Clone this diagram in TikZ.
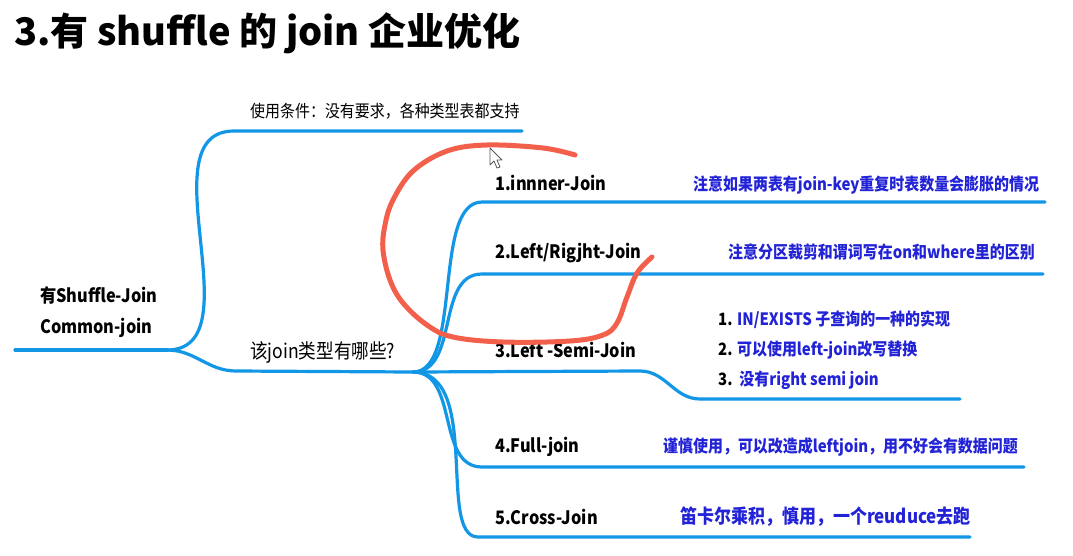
\documentclass[tikz,border=0pt]{standalone}
\usepackage{fontspec}
\setmainfont{Noto Sans CJK SC}[FakeStretch=0.88]
\newfontfamily\titlefont{Noto Sans CJK SC}
\usetikzlibrary{positioning}
\definecolor{branch}{RGB}{18,150,230}
\definecolor{noteblue}{RGB}{34,34,214}
\definecolor{pen}{RGB}{242,96,76}

\begin{document}
\begin{tikzpicture}[x=1pt, y=-1pt,
    lab/.style={anchor=west, inner sep=0pt, font=\fontsize{18.5}{22}\selectfont\bfseries},
    note/.style={anchor=west, inner sep=0pt, text=noteblue,
                 font=\fontsize{17}{20}\selectfont\bfseries},
    br/.style={draw=branch, line width=3.2pt, line cap=round}
]
\fill[white] (0,0) rectangle (1073,555);
\useasboundingbox (0,0) rectangle (1073,555);

% title
\node[anchor=base west, inner sep=0pt, font=\titlefont\fontsize{38}{42}\selectfont\bfseries]
    (title) at (14,45) {3.有 shuffle 的 join 企业优化};

% root and first level
\node[lab, align=left, font=\fontsize{18.5}{31}\selectfont\bfseries] (root) at (40,312)
    {有Shuffle-Join\\Common-join};
\node[anchor=west, inner sep=0pt, font=\fontsize{17}{20}\selectfont] (cond) at (250,111)
    {使用条件：没有要求，各种类型表都支持};
\node[anchor=west, inner sep=0pt, font=\fontsize{20}{24}\selectfont] (kind) at (250,352)
    {该join类型有哪些?};

% join kinds
\node[lab] (j1) at (495,183) {1.innner-Join};
\node[lab] (j2) at (495,253) {2.Left/Rigjht-Join};
\node[lab] (j3) at (495,350) {3.Left -Semi-Join};
\node[lab] (j4) at (495,447) {4.Full-join};
\node[lab] (j5) at (495,517) {5.Cross-Join};

% notes
\node[note] (n1) at (693,185) {注意如果两表有join-key重复时表数量会膨胀的情况};
\node[note] (n2) at (728,252) {注意分区裁剪和谓词写在on和where里的区别};
\node[note, align=left, font=\fontsize{17}{30}\selectfont\bfseries] (n3) at (718,350)
    {\textcolor{black}{1.} IN/EXISTS 子查询的一种的实现\\
     \textcolor{black}{2.} 可以使用left-join改写替换\\
     \textcolor{black}{3.}\ \ 没有right semi join};
\node[note] (n4) at (663,447) {谨慎使用，可以改造成leftjoin，用不好会有数据问题};
\node[note, font=\fontsize{19.3}{22}\selectfont\bfseries] (n5) at (680,517)
    {笛卡尔乘积，慎用，一个reuduce去跑};

% branch ends
\coordinate (rootL) at (15,350);
\coordinate (rootR) at (167,350);
\coordinate (condL) at (234,131);
\coordinate (condR) at (522,131);
\coordinate (kindL) at (236,371);
\coordinate (hub) at (413,372);
\coordinate (j1L) at (482,202);
\coordinate (j1R) at (1045,202);
\coordinate (j2L) at (482,274);
\coordinate (j2R) at (1043,274);
\coordinate (j3M) at (640,371);
\coordinate (j3L) at (700,399);
\coordinate (j3R) at (960,399);
\coordinate (j4L) at (482,467);
\coordinate (j4R) at (1024,467);
\coordinate (j5L) at (478,537);
\coordinate (j5R) at (970,537);

\draw[br] (rootL) -- (rootR);
\draw[br] (rootR) to[out=0, in=180] (condL) -- (condR);
\draw[br] (rootR) to[out=0, in=180] (kindL) -- (hub);
\draw[br] (hub) to[out=0, in=180, looseness=0.7] (j1L) -- (j1R);
\draw[br] (hub) to[out=0, in=180] (j2L) -- (j2R);
\draw[br] (hub) -- (j3M) to[out=0, in=180] (j3L) -- (j3R);
\draw[br] (hub) to[out=0, in=180] (j4L) -- (j4R);
\draw[br] (hub) to[out=0, in=180, out looseness=1, in looseness=0.6] (j5L) -- (j5R);

% red pen mark
\draw[pen, line width=5pt, line cap=round, line join=round]
    plot[smooth, tension=0.6] coordinates {(575,155) (543,148) (487,145) (447,151)
    (413,171) (393,200) (385,225) (383,250) (390,280) (403,303) (427,325)
    (453,337) (503,342) (570,341) (603,335) (617,323) (627,297) (637,273) (652,257)};

% mouse pointer
\draw[gray!70!black, fill=white, line width=0.8pt, line join=round]
    (490,148) -- (490,165) -- (494,161) -- (497,168) -- (500,167) -- (497,160) -- (502,160) -- cycle;
\end{tikzpicture}
\end{document}
